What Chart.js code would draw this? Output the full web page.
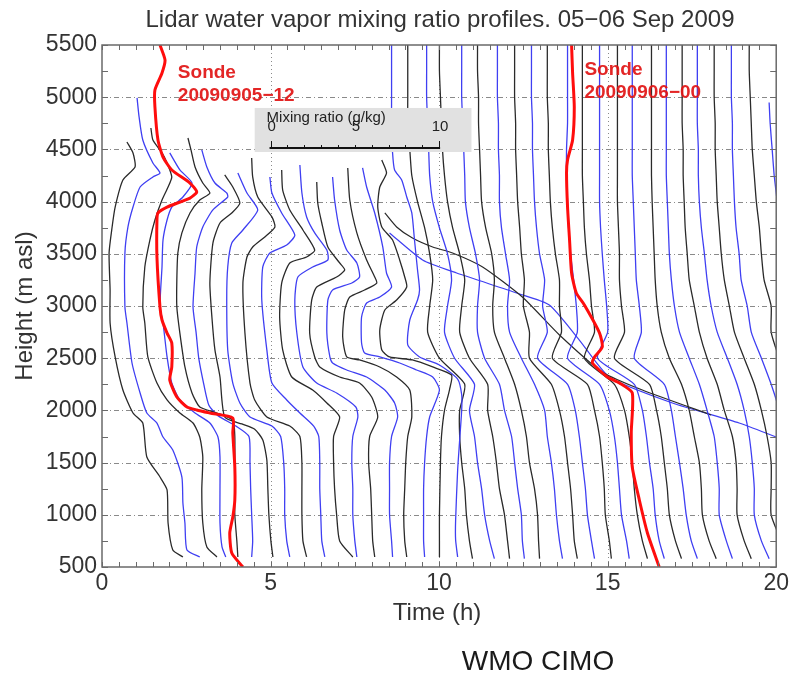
<!DOCTYPE html>
<html>
<head>
<meta charset="utf-8">
<script src="https://cdn.jsdelivr.net/npm/chart.js@4.4.0/dist/chart.umd.min.js"></script>
<style>
  html, body { margin: 0; padding: 0; background: #fff; }
</style>
</head>
<body>
<canvas id="lidarChart" width="792" height="673"></canvas>
<script>
// Left-hand lidar profiles (launch order 1..18): [height m asl, plotted position h]
const leftProfiles = [
  [[596,2.40],[663,2.10],[921,1.96],[1238,1.93],[1362,1.72],[1554,1.33],[1879,1.21],[1975,0.92],[2195,0.62],[2512,0.39],[2837,0.24],[3153,0.24],[3508,0.21],[3757,0.30],[3948,0.39],[4207,0.62],[4332,0.98],[4466,0.92],[4571,0.74]],
  [[596,2.90],[663,2.52],[921,2.46],[1113,2.40],[1362,2.37],[1621,2.10],[1745,1.81],[1879,1.63],[1975,1.33],[2167,1.13],[2454,0.89],[2837,0.74],[2991,0.68],[3508,0.68],[3757,0.77],[3948,0.92],[4140,1.13],[4236,1.51],[4274,1.72],[4370,1.51],[4590,1.21],[4811,1.10],[4993,1.04]],
  [[596,3.41],[692,3.11],[921,2.99],[1238,2.96],[1554,2.99],[1745,2.90],[1879,2.70],[1975,2.31],[2100,1.93],[2262,1.63],[2512,1.36],[2837,1.27],[2991,1.21],[3374,1.27],[3632,1.42],[3824,1.57],[4015,1.78],[4140,1.96],[4236,2.07],[4370,1.93],[4466,1.78],[4590,1.51],[4705,1.45]],
  [[596,3.67],[692,3.56],[921,3.50],[1238,3.50],[1554,3.50],[1745,3.44],[1879,3.20],[1975,2.76],[2100,2.31],[2262,2.07],[2512,1.93],[2837,1.81],[2991,1.72],[3374,1.78],[3632,1.81],[3824,1.93],[3948,2.07],[4044,2.40],[4178,2.67],[4303,2.31],[4466,2.01]],
  [[596,4.03],[750,4.00],[1000,3.94],[1250,3.94],[1500,3.94],[1750,3.94],[1908,3.88],[1975,3.41],[2033,2.90],[2167,2.67],[2416,2.46],[2741,2.31],[2991,2.22],[3249,2.22],[3508,2.25],[3700,2.37],[3891,2.61],[4015,2.90],[4082,3.20],[4178,2.99],[4332,2.76],[4495,2.64],[4609,2.55]],
  [[596,4.44],[750,4.47],[1000,4.44],[1250,4.41],[1500,4.39],[1750,4.36],[1850,3.97],[1950,3.44],[2050,3.17],[2250,3.02],[2500,2.87],[2750,2.79],[2991,2.70],[3316,2.76],[3565,2.81],[3757,2.99],[3920,3.29],[4044,3.73],[4082,3.70],[4178,3.35],[4332,3.11],[4495,2.96]],
  [[596,5.07],[750,5.01],[1000,4.95],[1250,4.92],[1525,4.89],[1717,4.77],[1820,4.53],[1870,4.15],[1937,3.64],[2320,3.50],[2579,3.35],[2895,3.26],[3220,3.20],[3603,3.29],[3795,3.50],[3891,3.85],[3987,4.09],[4140,3.88],[4255,3.64]],
  [[596,5.57],[750,5.48],[1000,5.42],[1250,5.42],[1500,5.39],[1750,5.30],[1850,5.04],[1937,4.39],[2071,4.09],[2262,3.88],[2579,3.73],[3057,3.70],[3374,3.73],[3603,3.85],[3728,4.18],[3920,4.62],[4082,4.30],[4274,4.03]],
  [[596,6.07],[750,5.96],[1000,5.93],[1250,5.93],[1500,5.93],[1750,5.87],[1850,5.57],[1937,4.89],[2100,4.53],[2262,4.39],[2741,4.24],[3220,4.18],[3469,4.30],[3565,4.47],[3661,4.83],[3757,5.13],[3853,5.04],[4044,4.62],[4236,4.47],[4418,4.44]],
  [[596,6.61],[750,6.52],[1000,6.49],[1250,6.46],[1500,6.46],[1750,6.43],[1850,6.28],[1975,5.87],[2100,5.48],[2262,5.04],[2579,4.89],[3057,4.74],[3374,4.77],[3508,4.98],[3584,5.48],[3680,5.72],[3891,5.33],[4082,5.04],[4236,4.98]],
  [[596,7.44],[750,7.05],[1000,6.96],[1250,6.90],[1500,6.87],[1750,6.87],[1937,7.05],[2071,6.67],[2195,6.25],[2320,5.63],[2579,5.36],[2895,5.27],[3220,5.33],[3412,5.57],[3469,6.07],[3536,6.31],[3728,5.96],[3920,5.57],[4111,5.36],[4303,5.33]],
  [[596,7.56],[750,7.50],[1000,7.44],[1250,7.44],[1500,7.41],[1750,7.44],[1937,7.59],[2033,7.53],[2167,6.96],[2262,6.37],[2416,5.96],[2741,5.78],[3057,5.72],[3278,5.81],[3374,6.25],[3441,6.70],[3536,6.67],[3700,6.31],[3853,6.07],[4082,5.93],[4351,5.87]],
  [[596,8.09],[750,8.03],[1000,8.00],[1250,7.97],[1500,7.91],[1750,7.94],[1937,8.18],[2128,8.00],[2262,7.64],[2320,7.05],[2416,6.46],[2512,6.31],[2741,6.16],[3057,6.22],[3182,6.37],[3278,6.96],[3345,7.20],[3412,7.05],[3565,6.70],[3795,6.52],[3987,6.40],[4188,6.37]],
  [[596,8.62],[750,8.59],[1000,8.53],[1250,8.53],[1500,8.53],[1750,8.59],[1937,8.77],[2071,8.68],[2195,8.39],[2320,7.85],[2387,7.26],[2454,6.84],[2512,6.76],[2741,6.67],[3057,6.70],[3153,6.84],[3220,7.41],[3278,7.64],[3412,7.56],[3536,7.26],[3728,7.05],[4015,6.90],[4236,6.84]],
  [[596,9.04],[750,8.98],[1000,8.95],[1250,8.98],[1500,9.01],[1750,9.07],[1937,9.19],[2195,9.13],[2320,8.74],[2416,8.24],[2483,7.64],[2512,7.26],[2703,7.14],[2962,7.20],[3086,7.35],[3153,7.79],[3220,8.15],[3278,8.09],[3441,7.85],[3700,7.56],[4015,7.35],[4322,7.29]],
  [[596,9.57],[750,9.54],[1000,9.54],[1250,9.54],[1500,9.57],[1750,9.63],[1937,9.72],[2195,10.01],[2320,9.81],[2387,9.33],[2454,8.83],[2512,8.24],[2550,7.79],[2646,7.70],[2895,7.70],[3029,7.85],[3086,8.24],[3182,8.59],[3316,8.44],[3565,8.33],[3891,8.09],[4140,7.85],[4322,7.73]],
  [[596,10.01],[750,10.01],[1000,10.01],[1500,10.04],[1750,10.07],[2000,10.16],[2200,10.31],[2339,10.37],[2416,9.81],[2483,9.21],[2512,8.53],[2579,8.30],[2770,8.24],[2962,8.39],[3057,8.74],[3182,9.04],[3278,8.98],[3441,8.83],[3632,8.62],[3757,8.30],[3948,8.18],[4140,8.24],[4274,8.44],[4398,8.30]],
  [[596,10.55],[758,10.49],[950,10.49],[1429,10.55],[1716,10.61],[2004,10.67],[2150,10.67],[2300,10.55],[2435,10.01],[2512,9.42],[2627,9.07],[2866,9.13],[3057,9.36],[3153,9.42],[3345,9.36],[3632,9.27],[3891,9.19],[4044,9.04],[4207,8.89],[4303,8.68],[4466,8.62],[4750,8.59],[5000,8.59],[5250,8.59],[5500,8.59]]
];

// Right-hand profiles (19..40), read at fixed heights
const levels = [580, 750, 1000, 1250, 1500, 1750, 2000, 2250, 2500, 2750, 3000, 3250, 3500, 3750, 4000, 4250, 4500, 4750, 5000, 5250, 5500];
const rightTimes = [
  [10.99,10.90,10.81,10.76,10.67,10.61,10.61,10.76,10.01,9.66,9.72,9.81,9.72,9.57,9.36,9.19,9.13,9.07,9.07,9.07,9.07],
  [11.64,11.50,11.35,11.26,11.14,11.05,10.90,11.05,10.46,10.16,10.25,10.37,10.25,10.01,9.81,9.72,9.69,9.66,9.63,9.63,9.63],
  [12.09,12.03,11.94,11.79,11.70,11.59,11.44,11.44,10.90,10.61,10.67,10.76,10.61,10.40,10.25,10.16,10.10,10.07,10.04,10.01,10.01],
  [12.53,12.47,12.44,12.33,12.24,12.15,11.94,11.79,11.35,11.14,11.14,11.20,11.08,10.90,10.78,10.76,10.73,10.70,10.67,10.67,10.67],
  [12.98,12.95,12.92,12.83,12.68,12.59,12.44,12.24,11.94,11.64,11.59,11.64,11.56,11.38,11.26,11.23,11.20,11.17,11.17,11.14,11.14],
  [13.66,13.57,13.48,13.42,13.33,13.21,13.13,12.83,12.44,12.09,12.03,12.09,11.97,11.85,11.79,11.79,11.76,11.76,11.73,11.73,11.73],
  [14.10,14.01,13.96,13.90,13.81,13.72,13.57,13.33,12.68,12.68,12.50,12.53,12.44,12.39,12.33,12.30,12.27,12.27,12.24,12.24,12.24],
  [14.61,14.52,14.40,14.34,14.25,14.16,14.04,13.81,12.92,13.21,13.07,13.13,12.98,12.89,12.83,12.80,12.77,12.77,12.74,12.74,12.74],
  [15.11,15.05,14.93,14.90,14.84,14.76,14.61,14.40,13.36,13.63,13.57,13.57,13.45,13.36,13.30,13.27,13.24,13.24,13.21,13.21,13.21],
  [15.64,15.56,15.41,15.35,15.29,15.20,15.05,14.76,13.81,14.10,14.07,13.99,13.90,13.84,13.81,13.78,13.78,13.81,13.81,13.81,13.81],
  [16.18,16.03,15.88,15.79,15.73,15.64,15.50,15.20,14.31,14.61,14.52,14.46,14.37,14.31,14.28,14.25,14.25,14.25,14.25,14.25,14.25],
  [16.68,16.53,16.41,16.35,16.24,16.15,16.03,15.79,14.70,15.00,14.97,14.90,14.84,14.79,14.76,14.76,14.76,14.76,14.76,14.76,14.76],
  [17.19,17.01,16.83,16.77,16.68,16.59,16.45,16.24,15.20,15.50,15.41,15.35,15.35,15.32,15.29,15.29,15.29,15.29,15.29,15.29,15.29],
  [17.66,17.48,17.33,17.24,17.13,17.01,16.89,16.68,15.79,16.00,15.94,15.85,15.82,15.79,15.76,15.73,15.73,15.73,15.73,15.73,15.73],
  [18.22,18.01,17.81,17.78,17.72,17.57,17.42,17.19,16.83,16.59,16.47,16.41,16.38,16.35,16.32,16.30,16.30,16.30,16.30,16.30,16.30],
  [18.70,18.52,18.31,18.31,18.25,18.16,17.95,17.72,17.42,17.13,16.98,16.89,16.83,16.80,16.77,16.74,16.74,16.74,16.74,16.74,16.74],
  [19.26,19.05,18.84,18.84,18.81,18.70,18.46,18.25,17.95,17.72,17.57,17.42,17.36,17.30,17.27,17.24,17.24,17.21,17.21,17.21,17.21],
  [19.79,19.56,19.35,19.35,19.29,19.20,19.05,18.84,18.55,18.25,18.07,17.95,17.87,17.78,17.72,17.69,17.69,17.66,17.66,17.66,17.66],
  [20.39,20.15,19.85,19.85,19.85,19.73,19.56,19.35,19.05,18.76,18.61,18.46,18.37,18.31,18.25,18.22,18.19,18.19,18.16,18.16,18.16],
  [20.92,20.68,20.39,20.39,20.39,20.24,20.09,19.85,19.56,19.26,19.14,18.96,18.90,18.81,18.76,18.73,18.70,18.70,18.67,18.67,18.67],
  [21.42,21.22,20.98,20.92,20.92,20.74,20.62,20.39,20.09,19.85,19.85,19.64,19.56,19.50,19.41,19.35,19.29,19.26,19.23,19.20,19.20],
  [22.01,21.81,21.57,21.51,21.51,21.33,21.22,20.98,20.68,20.45,20.39,20.24,20.15,20.09,20.03,19.94,19.88,19.82,19.79]
];
const rightTops = [5500,5500,5500,5500,5500,5500,5500,5500,5500,5500,5500,5500,5500,5500,5500,5500,5500,5500,5500,5500,5500,4950];

// Long slanted traces crossing the middle of the plot
const diagBlackHeights = [3891, 3757, 3651, 3565, 3508, 3374, 3086, 2722, 2368, 2195, 1956];
const diagBlackTimes = [8.39, 8.74, 9.21, 9.81, 10.40, 11.29, 12.47, 13.57, 14.84, 16.03, 18.07];
const diagBlueHeights = [3699, 3441, 3316, 3125, 3010, 2674, 2320, 2071, 1879, 1745];
const diagBlueTimes = [8.53, 9.51, 10.52, 12.30, 13.27, 14.16, 15.05, 16.92, 18.90, 20.00];

// Radiosondes
const sonde1Heights = [500,634,826,979,1142,1458,1784,1927,1975,2004,2033,2128,2291,2416,2646,2741,2866,2990,3469,3824,3891,3948,4034,4092,4178,4303,4427,4590,4906,5069,5232,5356,5500];
const sonde1Times = [4.18,3.85,3.79,3.88,3.94,3.94,3.88,3.88,3.20,2.81,2.52,2.22,2.01,2.07,2.07,1.93,1.78,1.72,1.63,1.63,1.66,1.93,2.61,2.81,2.61,2.07,1.81,1.66,1.57,1.57,1.78,1.87,1.72];
const sonde2Heights = [500,826,1142,1458,1784,2167,2262,2320,2454,2511,2607,2741,3010,3124,3316,3632,3948,4274,4398,4590,4906,5232,5500];
const sonde2Times = [16.53,16.18,15.94,15.73,15.70,15.73,15.35,14.99,14.55,14.61,14.84,14.76,14.31,14.07,13.93,13.87,13.81,13.78,13.81,13.96,14.01,13.96,13.93];
const sondeLabels = [['Sonde', '20090905\u221212'], ['Sonde', '20090906\u221200']];
const sondeLabelAt = [[2.25, 5184], [14.31, 5213]];

// Mixing ratio key: 1 g/kg spans 0.5 h on the time axis
const keyTicks = [0, 5, 10];
const keyStart = 5;
const keyHoursPerUnit = 0.5;

const xTicks = [0, 5, 10, 15, 20];
const yTicks = [500, 1000, 1500, 2000, 2500, 3000, 3500, 4000, 4500, 5000, 5500];

const FONT = '"Liberation Sans", Arial, sans-serif';
const BLACK = '#2a2a2a';
const BLUE = '#3f3ff2';
const RED = '#ff0d0d';

const toPoints = (hs, ts) => ts.map((t, i) => ({ x: t, y: hs[i] }));
const lineColor = i => (i % 2 === 0 ? BLACK : BLUE);

const datasets = [];
datasets.push({ data: toPoints(sonde1Heights, sonde1Times), borderColor: RED, borderWidth: 3, order: 0 });
datasets.push({ data: toPoints(sonde2Heights, sonde2Times), borderColor: RED, borderWidth: 3, order: 0 });
datasets.push({ data: toPoints(diagBlackHeights, diagBlackTimes), borderColor: BLACK, borderWidth: 1.2, order: 2 });
datasets.push({ data: toPoints(diagBlueHeights, diagBlueTimes), borderColor: BLUE, borderWidth: 1.2, order: 2 });
leftProfiles.forEach((pairs, i) => {
    datasets.push({
        data: pairs.map(([h, t]) => ({ x: t, y: h })),
        borderColor: lineColor(i), borderWidth: 1.3, order: 1
    });
});
rightTimes.forEach((times, j) => {
    const hs = levels.slice(0, times.length);
    hs[hs.length - 1] = rightTops[j];
    datasets.push({
        data: toPoints(hs, times),
        borderColor: lineColor(leftProfiles.length + j), borderWidth: 1.3, order: 1
    });
});
datasets.forEach(d => {
    d.pointRadius = 0;
    d.fill = false;
    d.tension = 0.2;
    d.clip = 0;
});

const framePlugin = {
    id: 'frame',
    beforeDatasetsDraw(chart) {
        const { ctx, chartArea: a, scales: { x, y } } = chart;
        ctx.save();
        ctx.strokeStyle = '#8a8a8a';
        ctx.lineWidth = 1;
        ctx.setLineDash([5, 3, 1, 3]);
        yTicks.slice(1, -1).forEach(v => {
            const py = Math.round(y.getPixelForValue(v)) + 0.5;
            ctx.beginPath(); ctx.moveTo(a.left, py); ctx.lineTo(a.right, py); ctx.stroke();
        });
        ctx.setLineDash([1, 3]);
        xTicks.slice(1, -1).forEach(v => {
            const px = Math.round(x.getPixelForValue(v)) + 0.5;
            ctx.beginPath(); ctx.moveTo(px, a.top); ctx.lineTo(px, a.bottom); ctx.stroke();
        });
        ctx.restore();
    },
    afterDatasetsDraw(chart) {
        const { ctx, chartArea: a, scales: { x, y } } = chart;
        ctx.save();

        // mixing ratio key
        const bx0 = x.getPixelForValue(4.53), bx1 = x.getPixelForValue(10.96);
        const by0 = y.getPixelForValue(4897), by1 = y.getPixelForValue(4475);
        ctx.fillStyle = '#e1e1e1';
        ctx.fillRect(bx0, by0, bx1 - bx0, by1 - by0);
        const ky = y.getPixelForValue(4513);
        const kx0 = x.getPixelForValue(keyStart);
        const kx1 = x.getPixelForValue(keyStart + 10 * keyHoursPerUnit);
        ctx.strokeStyle = '#111';
        ctx.lineWidth = 2;
        ctx.beginPath(); ctx.moveTo(kx0 - 1, ky); ctx.lineTo(kx1 + 1, ky); ctx.stroke();
        ctx.lineWidth = 1;
        for (let g = 0; g <= 10; g++) {
            const px = Math.round(x.getPixelForValue(keyStart + g * keyHoursPerUnit)) + 0.5;
            const len = (g === 0 || g === 10) ? 7 : 3;
            ctx.beginPath(); ctx.moveTo(px, ky); ctx.lineTo(px, ky - len); ctx.stroke();
        }
        ctx.fillStyle = '#222';
        ctx.font = '15px ' + FONT;
        ctx.textAlign = 'left';
        ctx.textBaseline = 'alphabetic';
        ctx.fillText('Mixing ratio (g/kg)', kx0 - 4, by0 + 14);
        ctx.textAlign = 'center';
        keyTicks.forEach(v => {
            ctx.fillText(String(v), x.getPixelForValue(keyStart + v * keyHoursPerUnit) + 1, by0 + 23);
        });

        // sonde labels
        ctx.fillStyle = 'rgba(225,20,20,0.92)';
        ctx.font = 'bold 19px ' + FONT;
        ctx.textAlign = 'left';
        sondeLabels.forEach((lines, i) => {
            const px = x.getPixelForValue(sondeLabelAt[i][0]);
            const py = y.getPixelForValue(sondeLabelAt[i][1]);
            lines.forEach((s, j) => ctx.fillText(s, px, py + j * 23));
        });

        // frame with inward ticks on all sides
        ctx.strokeStyle = '#6a6a6a';
        ctx.lineWidth = 1.5;
        ctx.strokeRect(a.left, a.top, a.right - a.left, a.bottom - a.top);
        ctx.lineWidth = 1;
        for (let t = 0; t <= 20; t += 0.5) {
            const px = Math.round(x.getPixelForValue(t)) + 0.5;
            ctx.beginPath();
            ctx.moveTo(px, a.bottom); ctx.lineTo(px, a.bottom - 5);
            ctx.moveTo(px, a.top); ctx.lineTo(px, a.top + 5);
            ctx.stroke();
        }
        for (let h = 500; h <= 5500; h += 250) {
            const py = Math.round(y.getPixelForValue(h)) + 0.5;
            ctx.beginPath();
            ctx.moveTo(a.left, py); ctx.lineTo(a.left + 6, py);
            ctx.moveTo(a.right, py); ctx.lineTo(a.right - 6, py);
            ctx.stroke();
        }

        // titles
        ctx.fillStyle = '#333';
        ctx.textAlign = 'center';
        ctx.font = '24px ' + FONT;
        ctx.fillText('Lidar water vapor mixing ratio profiles. 05\u221206 Sep 2009', 440, 27);
        ctx.fillText('Time (h)', 437, 620);
        ctx.save();
        ctx.translate(32, (a.top + a.bottom) / 2);
        ctx.rotate(-Math.PI / 2);
        ctx.fillText('Height (m asl)', 0, 0);
        ctx.restore();
        ctx.fillStyle = '#1a1a1a';
        ctx.font = '28px ' + FONT;
        ctx.fillText('WMO CIMO', 538, 670);
        ctx.restore();
    }
};

new Chart(document.getElementById('lidarChart'), {
    type: 'line',
    data: { datasets },
    options: {
        responsive: false,
        animation: false,
        devicePixelRatio: 1,
        layout: { padding: { top: 45, right: 15, left: 0, bottom: 0 } },
        plugins: { legend: { display: false }, tooltip: { enabled: false } },
        scales: {
            x: {
                type: 'linear', min: 0, max: 20,
                afterBuildTicks: s => { s.ticks = xTicks.map(v => ({ value: v })); },
                afterFit: s => { s.height = 106; },
                ticks: { color: '#333', font: { family: FONT, size: 23 }, padding: 3, maxRotation: 0, callback: v => String(v) },
                grid: { display: false, drawTicks: false },
                border: { display: false }
            },
            y: {
                type: 'linear', min: 500, max: 5500,
                afterBuildTicks: s => { s.ticks = yTicks.map(v => ({ value: v })); },
                afterFit: s => { s.width = 102; },
                ticks: { color: '#333', font: { family: FONT, size: 23 }, padding: 5, callback: v => String(v) },
                grid: { display: false, drawTicks: false },
                border: { display: false }
            }
        }
    },
    plugins: [framePlugin]
});
</script>
</body>
</html>
